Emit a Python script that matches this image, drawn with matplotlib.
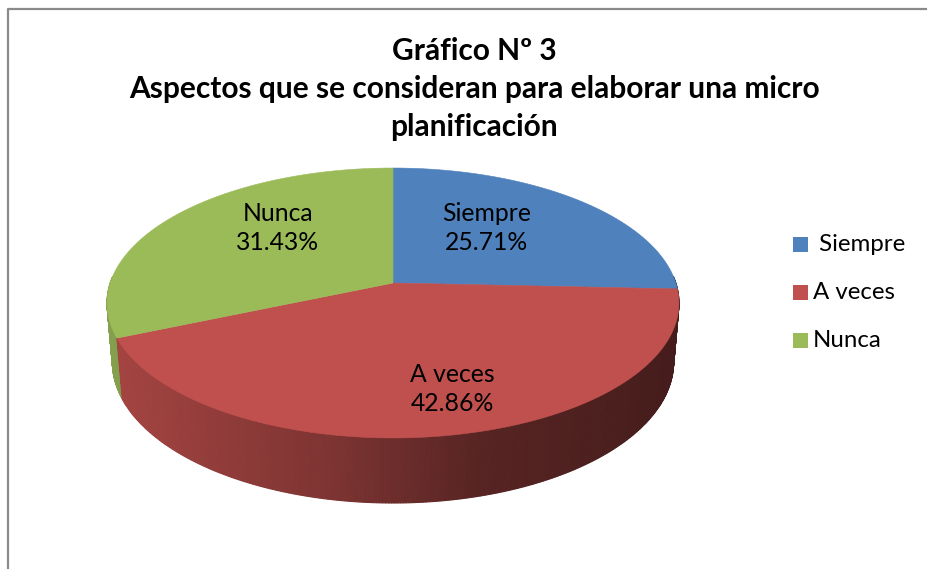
import numpy as np
import matplotlib.pyplot as plt
from matplotlib.patches import Polygon, Rectangle

# datos del grafico
categorias = [' Siempre', 'A veces', 'Nunca']
porcentajes = [25.71, 42.86, 31.43]
colores = ['#4F81BD', '#C0504D', '#9BBB59']
titulo = 'Gráfico Nº 3\nAspectos que se consideran para elaborar una micro\nplanificación'

plt.rcParams['font.family'] = ['Lato', 'DejaVu Sans']

# geometria del pastel 3D (en pixeles)
cx, cy = 393, 283
alpha = np.arcsin(132 / 282.8)
L = np.cos(alpha) / 0.148
F = 282.8 * L
h = 0.238


def proyectar(u, v, z):
    prof = L + v * np.cos(alpha) - z * np.sin(alpha)
    x = cx + F * u / prof
    y = cy - F * (v * np.sin(alpha) + z * np.cos(alpha)) / prof
    return x, y


def sombra(x):
    return np.interp(x, [107, 340, 480, 680], [0.86, 0.64, 0.45, 0.36])


def oscurecer(color, f):
    r, g, b = plt.matplotlib.colors.to_rgb(color)
    return (r * f, g * f, b * f)


fig = plt.figure(figsize=(9.27, 5.69), dpi=100)
ax = fig.add_axes([0, 0, 1, 1])
ax.set_xlim(0, 927)
ax.set_ylim(569, 0)
ax.axis('off')

# marco
ax.plot([8, 8, 927], [569, 9, 9], color='#8a8a8a', lw=1.6, solid_capstyle='butt')

total = sum(porcentajes)
limites = np.cumsum([0] + porcentajes) / total * 2 * np.pi

# lateral
lados = []
for i in range(len(porcentajes)):
    t = np.linspace(limites[i], limites[i + 1], 300)
    for j in range(len(t) - 1):
        tm = (t[j] + t[j + 1]) / 2
        if np.cos(tm) > 0.05:
            continue
        u = np.sin(t[j:j + 2])
        v = np.cos(t[j:j + 2])
        xs, ys = proyectar(u, v, 0)
        xb, yb = proyectar(u, v, -h)
        pts = [(xs[0], ys[0]), (xs[1], ys[1]), (xb[1], yb[1]), (xb[0], yb[0])]
        prof = L + np.cos(tm) * np.cos(alpha)
        c = oscurecer(colores[i], sombra(np.mean(xs)))
        lados.append((prof, pts, c))
lados.sort(key=lambda q: -q[0])
for prof, pts, c in lados:
    ax.add_patch(Polygon(pts, closed=True, facecolor=c, edgecolor=c, lw=0.8))

# cara superior
for i in range(len(porcentajes)):
    t = np.linspace(limites[i], limites[i + 1], 300)
    xs, ys = proyectar(np.sin(t), np.cos(t), 0)
    pts = [(cx, cy)] + list(zip(xs, ys))
    ax.add_patch(Polygon(pts, closed=True, facecolor=colores[i],
                         edgecolor=colores[i], lw=0.4))

# etiquetas
pos_etiquetas = [(487, 228), (452, 389), (278, 228)]
for i in range(len(categorias)):
    ax.text(pos_etiquetas[i][0], pos_etiquetas[i][1],
            '%s\n%.2f%%' % (categorias[i].strip(), porcentajes[i]),
            ha='center', va='center', fontsize=17.8, linespacing=1.33)

# titulo
ax.text(474, 89, titulo, ha='center', va='center', fontsize=21.5,
        fontweight='bold', linespacing=1.43)

# leyenda
leyenda_y = [244, 292, 340]
for i in range(len(categorias)):
    ax.add_patch(Rectangle((793, leyenda_y[i] - 7.5), 15, 15,
                           facecolor=colores[i], edgecolor='none'))
    ax.text(813, leyenda_y[i], categorias[i], ha='left', va='center',
            fontsize=17.3)

fig.savefig('out.png', dpi=100)
